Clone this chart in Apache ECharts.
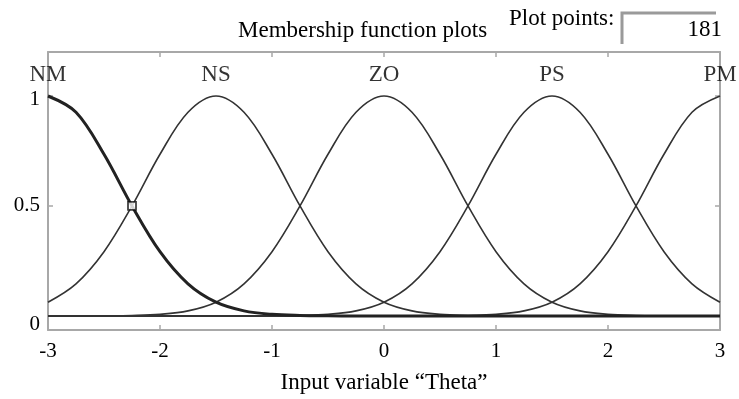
<!DOCTYPE html>
<html><head><meta charset="utf-8">
<script src="https://cdn.jsdelivr.net/npm/echarts@6/dist/echarts.min.js"></script>
<style>html,body{margin:0;padding:0;background:#fff}#c{width:739px;height:399px}</style>
</head><body><div id="c"></div>
<script>
// x positions (input variable Theta)
const xValues = [-3,-2.75,-2.5,-2.25,-2,-1.75,-1.5,-1.25,-1,-0.75,-0.5,-0.25,0,0.25,0.5,0.75,1,1.25,1.5,1.75,2,2.25,2.5,2.75,3];
// membership values
const NM = [1,0.926,0.735,0.5,0.292,0.146,0.0625,0.023,0.0072,0.002,0.0005,0.0001,0,0,0,0,0,0,0,0,0,0,0,0,0];
const NS = [0.0625,0.146,0.292,0.5,0.735,0.926,1,0.926,0.735,0.5,0.292,0.146,0.0625,0.023,0.0072,0.002,0.0005,0.0001,0,0,0,0,0,0,0];
const ZO = [0,0.0001,0.0005,0.002,0.0072,0.023,0.0625,0.146,0.292,0.5,0.735,0.926,1,0.926,0.735,0.5,0.292,0.146,0.0625,0.023,0.0072,0.002,0.0005,0.0001,0];
const PS = [0,0,0,0,0,0,0,0.0001,0.0005,0.002,0.0072,0.023,0.0625,0.146,0.292,0.5,0.735,0.926,1,0.926,0.735,0.5,0.292,0.146,0.0625];
const PM = [0,0,0,0,0,0,0,0,0,0,0,0,0,0.0001,0.0005,0.002,0.0072,0.023,0.0625,0.146,0.292,0.5,0.735,0.926,1];
const mfNames = ['NM','NS','ZO','PS','PM'];
const mfCenters = [-3,-1.5,0,1.5,3];
const xTicks = [-3,-2,-1,0,1,2,3];
const yTickLabels = ['0','0.5','1'];
const plotPoints = '181';
const cursorPoint = [-2.25, 0.5];

const FONT = '"Liberation Serif","Times New Roman",serif';
const curves = [NM, NS, ZO, PS, PM];
const lineSeries = curves.map((arr, i) => ({
  type: 'line',
  data: xValues.map((x, j) => [x, arr[j]]),
  smooth: 0.35,
  showSymbol: false,
  lineStyle: { color: i === 0 ? '#222' : '#333', width: i === 0 ? 3 : 1.6 },
  z: i === 0 ? 4 : 3,
  silent: true
}));
const frameLine = { onZero: false, lineStyle: { color: '#a8a8a8', width: 2 } };
const frameTick = { inside: true, length: 5, lineStyle: { color: '#a8a8a8', width: 1.5 } };

const chart = echarts.init(document.getElementById('c'));
chart.setOption({
  animation: false,
  backgroundColor: '#fff',
  title: {
    text: 'Membership function plots', left: 233, top: 14,
    textStyle: { fontFamily: FONT, fontWeight: 'normal', fontSize: 23, color: '#000' }
  },
  grid: { left: 48, right: 19, top: 52, bottom: 69 },
  xAxis: [{
    type: 'value', min: -3, max: 3, interval: 1, position: 'bottom',
    axisLine: frameLine, axisTick: frameTick,
    axisLabel: { margin: 11, fontFamily: FONT, fontSize: 21, color: '#000',
      customValues: xTicks, formatter: v => String(v) },
    splitLine: { show: false },
    name: 'Input variable \u201CTheta\u201D', nameLocation: 'middle', nameGap: 41,
    nameTextStyle: { fontFamily: FONT, fontSize: 23, color: '#000' }
  }, {
    type: 'value', min: -3, max: 3, interval: 1, position: 'top',
    axisLine: frameLine, axisTick: frameTick,
    axisLabel: { show: false }, splitLine: { show: false }
  }],
  yAxis: [{
    type: 'value', min: -0.064, max: 1.2, position: 'left',
    axisLine: Object.assign({ show: true }, frameLine),
    axisTick: Object.assign({ customValues: [0.5, 1] }, frameTick),
    axisLabel: { margin: 8, fontFamily: FONT, fontSize: 21, color: '#000',
      customValues: [-0.04, 0.5, 0.985],
      formatter: v => v < 0 ? yTickLabels[0] : (v < 0.75 ? yTickLabels[1] : yTickLabels[2]) },
    splitLine: { show: false }
  }, {
    type: 'value', min: -0.064, max: 1.2, position: 'right',
    axisLine: Object.assign({ show: true }, frameLine),
    axisTick: Object.assign({ customValues: [0.5, 1] }, frameTick),
    axisLabel: { show: false }, splitLine: { show: false }
  }],
  series: [
    {
      type: 'line', data: [[-3, 0], [3, 0]], showSymbol: false,
      lineStyle: { color: '#444', width: 2 }, z: 2, silent: true
    },
    ...lineSeries,
    {
      type: 'scatter', data: mfCenters.map((c, i) => [c, 1.095, mfNames[i]]),
      symbolSize: 0, silent: true, z: 6,
      label: { show: true, position: 'inside', formatter: p => p.value[2],
        fontFamily: FONT, fontSize: 23, color: '#000' }
    },
    {
      type: 'scatter', data: [cursorPoint], symbol: 'rect', symbolSize: 8, z: 7,
      itemStyle: { color: '#fff', borderColor: '#111', borderWidth: 1.8 }, silent: true
    }
  ],
  graphic: [
    { type: 'text', left: 509, top: 7,
      style: { text: 'Plot points:', font: '23px ' + FONT, fill: '#000' } },
    { type: 'polyline', shape: { points: [[622, 44], [622, 13], [716, 13]] },
      style: { stroke: '#9a9a9a', lineWidth: 3, fill: null } },
    { type: 'text', right: 17, top: 18,
      style: { text: plotPoints, font: '23px ' + FONT, fill: '#000', align: 'right' } }
  ]
});
</script></body></html>
